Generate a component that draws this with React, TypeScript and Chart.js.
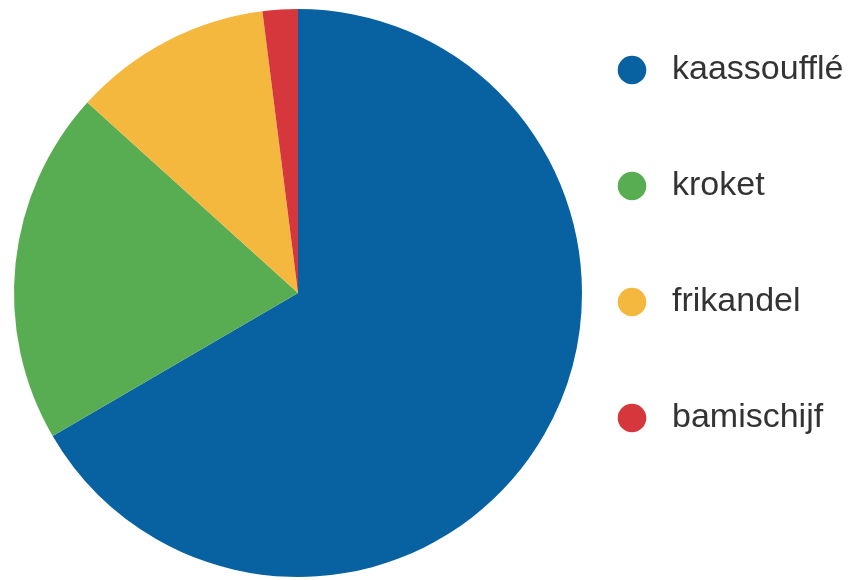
import React, { useEffect, useRef } from "react";
import { Chart, registerables } from "chart.js";

Chart.register(...registerables);

const categories = ["kaassoufflé", "kroket", "frikandel", "bamischijf"];
const shares = [66.6, 20.1, 11.3, 2.0];
const colors = ["#0862a2", "#58ad52", "#f5b83f", "#d6373c"];

function makeDot(color: string): HTMLCanvasElement {
  const c = document.createElement("canvas");
  c.width = 30;
  c.height = 30;
  const ctx = c.getContext("2d")!;
  ctx.fillStyle = color;
  ctx.beginPath();
  ctx.arc(15, 15, 14.3, 0, Math.PI * 2);
  ctx.fill();
  return c;
}

export default function App() {
  const ref = useRef<HTMLCanvasElement | null>(null);

  useEffect(() => {
    if (!ref.current) return;
    const dots = colors.map(makeDot);
    const chart = new Chart(ref.current, {
      type: "pie",
      data: {
        labels: categories,
        datasets: [
          {
            data: shares,
            backgroundColor: colors,
            borderWidth: 0,
            hoverOffset: 0,
          },
        ],
      },
      options: {
        animation: false,
        responsive: true,
        maintainAspectRatio: false,
        layout: { padding: { top: 9, bottom: 3, left: 0, right: 0 } },
        plugins: {
          tooltip: { enabled: false },
          title: { display: false },
          legend: {
            position: "right",
            align: "start",
            maxWidth: 253,
            title: {
              display: true,
              text: " ",
              font: { size: 10, lineHeight: "11px" },
              padding: 10,
            },
            labels: {
              usePointStyle: true,
              pointStyleWidth: 46,
              padding: 13,
              color: "#333333",
              font: {
                family: "'Liberation Sans', Arial, Helvetica, sans-serif",
                size: 34,
                lineHeight: "103px",
              },
              generateLabels: (c: any) => {
                const base = (Chart as any).overrides.pie.plugins.legend.labels.generateLabels(c);
                return base.map((item: any, i: number) => ({
                  ...item,
                  text: [item.text],
                  pointStyle: dots[i],
                  lineWidth: 0,
                  fontColor: "#333333",
                }));
              },
            },
          },
        },
      },
    });
    return () => chart.destroy();
  }, []);

  return (
    <div style={{ position: "absolute", left: 0, top: 0, width: 849, height: 580, background: "#fff" }}>
      <canvas ref={ref} />
    </div>
  );
}
